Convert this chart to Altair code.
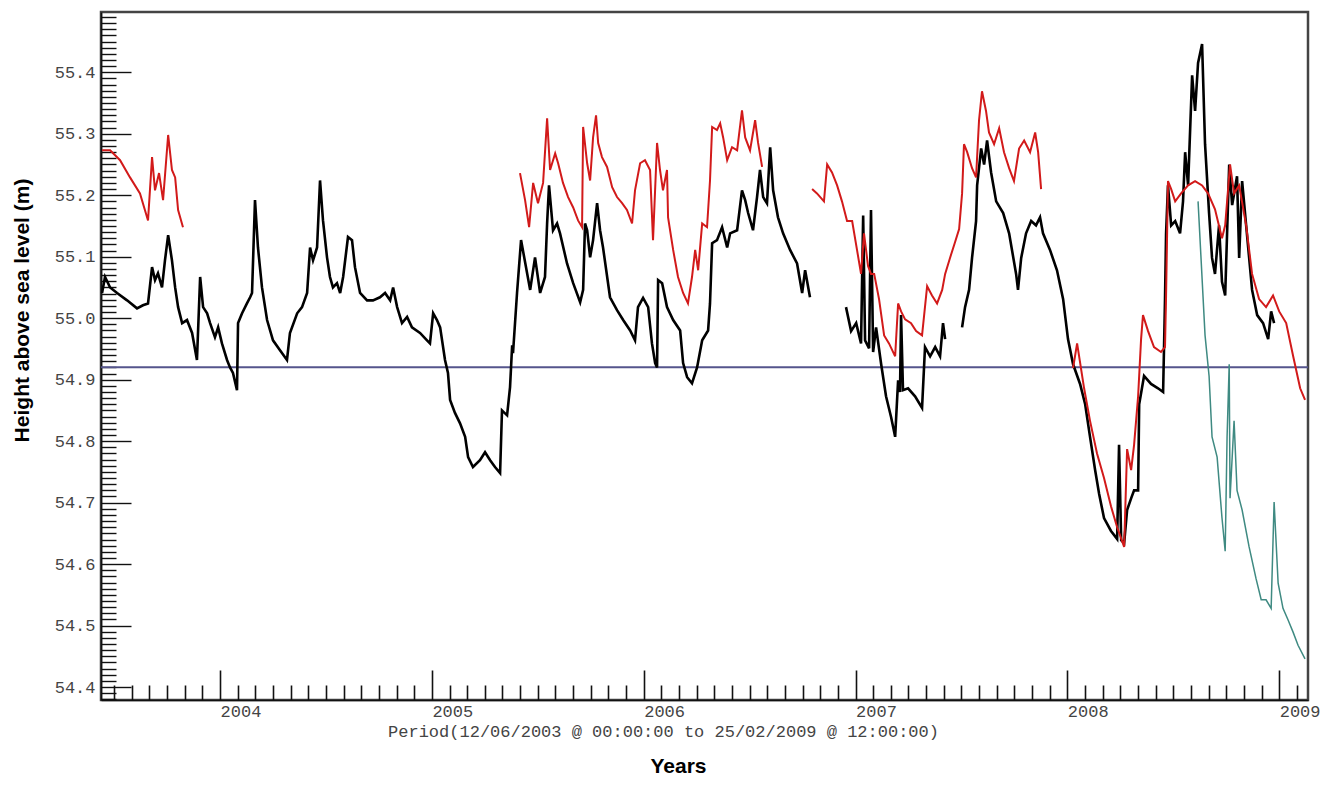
import altair as alt
import pandas as pd

# ---------------- data (decimal year, height in m) ----------------
black1_year = [2003.443, 2003.457, 2003.481, 2003.514, 2003.561, 2003.608, 2003.636, 2003.660, 2003.679, 2003.693,
               2003.707, 2003.726, 2003.740, 2003.755, 2003.773, 2003.788, 2003.802, 2003.821, 2003.844, 2003.868,
               2003.891, 2003.906, 2003.920, 2003.939, 2003.953, 2003.976, 2003.991, 2004.009, 2004.033, 2004.047,
               2004.061, 2004.080, 2004.085, 2004.104, 2004.127, 2004.142, 2004.151, 2004.165, 2004.179, 2004.198,
               2004.222, 2004.250, 2004.283, 2004.316, 2004.330, 2004.364, 2004.387, 2004.411, 2004.425, 2004.439,
               2004.458, 2004.472, 2004.486, 2004.505, 2004.519, 2004.533, 2004.552, 2004.567, 2004.581, 2004.604,
               2004.623, 2004.637, 2004.661, 2004.694, 2004.722, 2004.755, 2004.779, 2004.803, 2004.817, 2004.836,
               2004.859, 2004.883, 2004.906, 2004.944, 2004.977, 2004.991, 2005.006, 2005.024, 2005.039, 2005.062,
               2005.076, 2005.086, 2005.109, 2005.133, 2005.157, 2005.171, 2005.194, 2005.227, 2005.251, 2005.275,
               2005.298, 2005.322, 2005.331, 2005.355, 2005.369, 2005.379, 2005.383, 2005.402, 2005.421, 2005.464,
               2005.487, 2005.511, 2005.534, 2005.544, 2005.553, 2005.572, 2005.591, 2005.605, 2005.638, 2005.667,
               2005.700, 2005.714, 2005.723, 2005.733, 2005.747, 2005.761, 2005.780, 2005.794, 2005.808, 2005.841,
               2005.874, 2005.903, 2005.936, 2005.959, 2005.973, 2005.997, 2006.021, 2006.039, 2006.054, 2006.063,
               2006.068, 2006.087, 2006.110, 2006.139, 2006.172, 2006.186, 2006.205, 2006.228, 2006.252, 2006.276,
               2006.304, 2006.313, 2006.323, 2006.346, 2006.370, 2006.394, 2006.408, 2006.441, 2006.464, 2006.479,
               2006.493, 2006.516, 2006.535, 2006.549, 2006.564, 2006.582, 2006.597, 2006.611, 2006.634, 2006.658,
               2006.691, 2006.724, 2006.748, 2006.762, 2006.785]
black1_level = [55.041, 55.067, 55.050, 55.041, 55.029, 55.016, 55.021, 55.024, 55.083, 55.062,
                55.073, 55.050, 55.094, 55.135, 55.094, 55.050, 55.018, 54.992, 54.997, 54.976,
                54.932, 55.067, 55.018, 55.008, 54.992, 54.969, 54.985, 54.959, 54.932, 54.920,
                54.911, 54.883, 54.992, 55.008, 55.024, 55.034, 55.041, 55.192, 55.115, 55.050,
                54.997, 54.964, 54.948, 54.932, 54.976, 55.008, 55.018, 55.041, 55.115, 55.094,
                55.115, 55.224, 55.159, 55.099, 55.067, 55.050, 55.057, 55.041, 55.067, 55.132,
                55.127, 55.083, 55.041, 55.029, 55.029, 55.034, 55.041, 55.029, 55.050, 55.018,
                54.992, 55.002, 54.985, 54.976, 54.964, 54.959, 55.008, 54.997, 54.985, 54.932,
                54.911, 54.867, 54.846, 54.829, 54.807, 54.774, 54.758, 54.769, 54.782, 54.769,
                54.758, 54.748, 54.850, 54.842, 54.888, 54.956, 54.943, 55.041, 55.127, 55.046,
                55.099, 55.041, 55.067, 55.154, 55.216, 55.143, 55.154, 55.138, 55.089, 55.057,
                55.026, 55.046, 55.154, 55.143, 55.099, 55.127, 55.187, 55.143, 55.115, 55.034,
                55.013, 54.997, 54.980, 54.964, 55.018, 55.033, 55.018, 54.959, 54.927, 54.920,
                55.062, 55.057, 55.018, 54.997, 54.980, 54.927, 54.904, 54.894, 54.920, 54.964,
                54.980, 55.024, 55.122, 55.127, 55.148, 55.115, 55.138, 55.143, 55.208, 55.192,
                55.171, 55.143, 55.197, 55.241, 55.197, 55.187, 55.278, 55.208, 55.164, 55.138,
                55.111, 55.089, 55.041, 55.078, 55.034]

black2_year = [2006.955, 2006.979, 2007.003, 2007.026, 2007.036, 2007.045, 2007.064, 2007.073, 2007.083, 2007.097,
               2007.121, 2007.144, 2007.168, 2007.187, 2007.201, 2007.210, 2007.215, 2007.224, 2007.248, 2007.281,
               2007.314, 2007.328, 2007.352, 2007.376, 2007.399, 2007.413, 2007.423]
black2_level = [55.018, 54.979, 54.992, 54.959, 55.167, 54.964, 54.951, 55.176, 54.945, 54.985,
                54.925, 54.873, 54.839, 54.807, 54.899, 54.880, 55.005, 54.883, 54.886, 54.873,
                54.854, 54.953, 54.938, 54.953, 54.938, 54.992, 54.966]

black3_year = [2007.503, 2007.517, 2007.536, 2007.550, 2007.569, 2007.574, 2007.593, 2007.607, 2007.621, 2007.640,
               2007.664, 2007.697, 2007.725, 2007.758, 2007.767, 2007.782, 2007.805, 2007.829, 2007.852, 2007.871,
               2007.885, 2007.918, 2007.951, 2007.980, 2008.003, 2008.027, 2008.060, 2008.084, 2008.107, 2008.131,
               2008.150, 2008.173, 2008.206, 2008.235, 2008.244, 2008.254, 2008.268, 2008.282, 2008.301, 2008.315,
               2008.334, 2008.339, 2008.362, 2008.395, 2008.428, 2008.452, 2008.461, 2008.466, 2008.475, 2008.490,
               2008.509, 2008.532, 2008.546, 2008.556, 2008.570, 2008.589, 2008.603, 2008.617, 2008.636, 2008.650,
               2008.669, 2008.683, 2008.697, 2008.716, 2008.730, 2008.745, 2008.764, 2008.778, 2008.801, 2008.811,
               2008.825, 2008.844, 2008.872, 2008.896, 2008.924, 2008.948, 2008.962, 2008.976]
black3_level = [54.985, 55.018, 55.046, 55.098, 55.158, 55.216, 55.276, 55.250, 55.289, 55.237,
                55.190, 55.171, 55.138, 55.072, 55.046, 55.098, 55.138, 55.158, 55.151, 55.164,
                55.138, 55.111, 55.078, 55.031, 54.966, 54.925, 54.893, 54.860, 54.807, 54.753,
                54.714, 54.675, 54.654, 54.641, 54.794, 54.639, 54.634, 54.688, 54.707, 54.720,
                54.720, 54.860, 54.906, 54.893, 54.886, 54.880, 55.031, 55.138, 55.216, 55.151,
                55.158, 55.138, 55.190, 55.270, 55.216, 55.395, 55.337, 55.415, 55.446, 55.283,
                55.171, 55.098, 55.072, 55.151, 55.059, 55.037, 55.250, 55.184, 55.231, 55.098,
                55.223, 55.151, 55.046, 55.005, 54.992, 54.966, 55.011, 54.992]

red1_year = [2003.443, 2003.481, 2003.528, 2003.575, 2003.622, 2003.660, 2003.679, 2003.693, 2003.712, 2003.731,
             2003.755, 2003.773, 2003.788, 2003.802, 2003.825]
red1_level = [55.273, 55.273, 55.257, 55.229, 55.203, 55.159, 55.262, 55.208, 55.236, 55.192,
              55.298, 55.241, 55.229, 55.176, 55.148]

red2_year = [2005.416, 2005.440, 2005.459, 2005.478, 2005.501, 2005.525, 2005.544, 2005.558, 2005.582, 2005.596,
             2005.619, 2005.643, 2005.667, 2005.690, 2005.709, 2005.714, 2005.733, 2005.747, 2005.761, 2005.775,
             2005.785, 2005.803, 2005.827, 2005.851, 2005.874, 2005.898, 2005.921, 2005.945, 2005.959, 2005.983,
             2006.006, 2006.030, 2006.044, 2006.063, 2006.077, 2006.091, 2006.110, 2006.115, 2006.139, 2006.162,
             2006.186, 2006.209, 2006.228, 2006.243, 2006.257, 2006.276, 2006.299, 2006.313, 2006.323, 2006.346,
             2006.361, 2006.375, 2006.394, 2006.417, 2006.441, 2006.464, 2006.479, 2006.502, 2006.526, 2006.540,
             2006.559]
red2_level = [55.236, 55.192, 55.148, 55.220, 55.187, 55.220, 55.325, 55.241, 55.268, 55.252,
              55.220, 55.197, 55.180, 55.159, 55.148, 55.311, 55.252, 55.224, 55.294, 55.330,
              55.285, 55.262, 55.246, 55.213, 55.197, 55.187, 55.176, 55.154, 55.208, 55.252,
              55.257, 55.241, 55.127, 55.285, 55.241, 55.208, 55.241, 55.164, 55.111, 55.067,
              55.041, 55.024, 55.067, 55.111, 55.078, 55.154, 55.148, 55.224, 55.311, 55.306,
              55.317, 55.294, 55.257, 55.278, 55.273, 55.338, 55.294, 55.273, 55.322, 55.285,
              55.246]

red3_year = [2006.795, 2006.818, 2006.851, 2006.866, 2006.889, 2006.913, 2006.936, 2006.960, 2006.984, 2007.007,
             2007.026, 2007.040, 2007.059, 2007.073, 2007.088, 2007.111, 2007.135, 2007.158, 2007.187, 2007.201,
             2007.215, 2007.234, 2007.262, 2007.286, 2007.314, 2007.338, 2007.361, 2007.385, 2007.409, 2007.423,
             2007.446, 2007.470, 2007.489, 2007.503, 2007.512, 2007.527, 2007.550, 2007.569, 2007.583, 2007.597,
             2007.616, 2007.630, 2007.654, 2007.678, 2007.701, 2007.725, 2007.748, 2007.772, 2007.796, 2007.824,
             2007.848, 2007.862, 2007.876]
red3_level = [55.210, 55.203, 55.190, 55.250, 55.237, 55.216, 55.190, 55.158, 55.158, 55.111,
              55.072, 55.138, 55.085, 55.072, 55.072, 55.031, 54.972, 54.959, 54.938, 55.024,
              55.011, 54.998, 54.992, 54.979, 54.972, 55.052, 55.037, 55.024, 55.046, 55.072,
              55.098, 55.124, 55.145, 55.203, 55.283, 55.270, 55.244, 55.229, 55.322, 55.369,
              55.337, 55.302, 55.283, 55.309, 55.270, 55.244, 55.223, 55.276, 55.289, 55.270,
              55.302, 55.270, 55.210]

red4_year = [2008.027, 2008.046, 2008.079, 2008.107, 2008.140, 2008.173, 2008.206, 2008.235, 2008.268, 2008.282,
             2008.301, 2008.315, 2008.334, 2008.348, 2008.357, 2008.381, 2008.409, 2008.442, 2008.461, 2008.466,
             2008.475, 2008.490, 2008.509, 2008.537, 2008.570, 2008.603, 2008.636, 2008.664, 2008.697, 2008.730,
             2008.745, 2008.768, 2008.787, 2008.811, 2008.844, 2008.872, 2008.905, 2008.938, 2008.971, 2009.000,
             2009.033, 2009.066, 2009.099, 2009.122]
red4_level = [54.919, 54.959, 54.886, 54.833, 54.780, 54.740, 54.694, 54.660, 54.628, 54.787,
              54.753, 54.794, 54.873, 54.966, 55.005, 54.979, 54.953, 54.945, 54.953, 55.037,
              55.223, 55.210, 55.190, 55.203, 55.216, 55.223, 55.216, 55.203, 55.177, 55.130,
              55.151, 55.250, 55.203, 55.216, 55.151, 55.072, 55.031, 55.018, 55.037, 55.011,
              54.992, 54.938, 54.886, 54.867]

teal_year = [2008.617, 2008.650, 2008.669, 2008.683, 2008.707, 2008.730, 2008.745, 2008.754, 2008.764, 2008.768,
             2008.787, 2008.801, 2008.825, 2008.858, 2008.891, 2008.915, 2008.938, 2008.962, 2008.976, 2008.995,
             2009.018, 2009.042, 2009.066, 2009.089, 2009.122]
teal_level = [55.190, 54.972, 54.906, 54.807, 54.774, 54.675, 54.621, 54.807, 54.925, 54.707,
              54.833, 54.720, 54.688, 54.628, 54.576, 54.542, 54.542, 54.528, 54.701, 54.569,
              54.528, 54.509, 54.489, 54.468, 54.446]

reference_level = [54.92]

period_text = "Period(12/06/2003 @ 00:00:00 to 25/02/2009 @ 12:00:00)"


def frame(segments):
    parts = []
    for name, yrs, lv in segments:
        parts.append(pd.DataFrame({"year": yrs, "level": lv, "seg": name}))
    return pd.concat(parts, ignore_index=True)


black_df = frame([("b1", black1_year, black1_level), ("b2", black2_year, black2_level),
                  ("b3", black3_year, black3_level)])
red_df = frame([("r1", red1_year, red1_level), ("r2", red2_year, red2_level),
                ("r3", red3_year, red3_level), ("r4", red4_year, red4_level)])
teal_df = frame([("t1", teal_year, teal_level)])
ref_df = pd.DataFrame({"level": reference_level})

# ---------------- axes ----------------
month_ticks = [round(y + m / 12.0, 4) for y in range(2003, 2010) for m in range(12)
               if 2003.44 <= y + m / 12.0 <= 2009.136]
y_ticks = [round(54.38 + i * 0.01, 2) for i in range(112)]

x_major = "abs(datum.value - round(datum.value)) < 0.001"
y_major = "abs(datum.value * 10 - round(datum.value * 10)) < 0.01"

x_axis = alt.Axis(
    values=month_ticks,
    labelExpr=f"{x_major} ? format(datum.value, 'd') : ''",
    labelAlign="left", labelBaseline="top",
    labelFont="Liberation Mono", labelFontSize=17, labelColor="#444444",
    labelPadding=33, labelOverlap=False, labelFlush=False,
    ticks=True, tickColor="#111111", tickWidth=1.6,
    tickSize={"condition": {"test": x_major, "value": -30}, "value": -15},
    domainColor="#111111", domainWidth=1.6, grid=False,
    title=period_text, titleFont="Liberation Mono", titleFontSize=17,
    titleFontWeight="normal", titleColor="#444444",
    titleX=562, titleY=31, titleAlign="center", titleBaseline="middle", titleAngle=0,
)
y_axis = alt.Axis(
    values=y_ticks,
    labelExpr=f"{y_major} ? format(datum.value, '.1f') : ''",
    labelFont="Liberation Mono", labelFontSize=17, labelColor="#444444",
    labelPadding=36, labelOverlap=False, labelFlush=False,
    ticks=True, tickColor="#111111", tickWidth=1.4,
    tickSize={"condition": {"test": y_major, "value": -30}, "value": -15},
    domainColor="#111111", domainWidth=1.6, grid=False,
    title="Height above sea level (m)", titleFont="Liberation Sans", titleFontSize=21,
    titleFontWeight="bold", titleColor="#000000",
    titleX=-79, titleY=298, titleAlign="center", titleBaseline="middle", titleAngle=270,
)

xs = alt.Scale(domain=[2003.438, 2009.136], nice=False, zero=False)
ys = alt.Scale(domain=[54.379, 55.498], nice=False, zero=False)

X = alt.X("year:Q", scale=xs, axis=x_axis)
Y = alt.Y("level:Q", scale=ys, axis=y_axis)

black = alt.Chart(black_df).mark_line(color="#000000", strokeWidth=2.6).encode(x=X, y=Y, detail="seg:N")
red = alt.Chart(red_df).mark_line(color="#d21a1a", strokeWidth=2.0).encode(x=X, y=Y, detail="seg:N")
teal = alt.Chart(teal_df).mark_line(color="#3f8a82", strokeWidth=1.5).encode(x=X, y=Y, detail="seg:N")
ref = alt.Chart(ref_df).mark_rule(color="#55558c", strokeWidth=2).encode(y=Y)

chart = alt.layer(ref, black, red, teal).properties(
    width=1207, height=688,
    autosize=alt.AutoSizeParams(type="none"),
    padding={"left": 93, "top": 4, "right": 20, "bottom": 80},
    background="white",
    title=alt.TitleParams("Years", orient="bottom", anchor="middle", frame="group",
                          font="Liberation Sans", fontSize=21, fontWeight="bold",
                          color="#000000", dx=-26, offset=17),
).configure_view(stroke="#444444", strokeWidth=2.5)

chart.save("out.html", embed_options={"renderer": "svg", "actions": False})
